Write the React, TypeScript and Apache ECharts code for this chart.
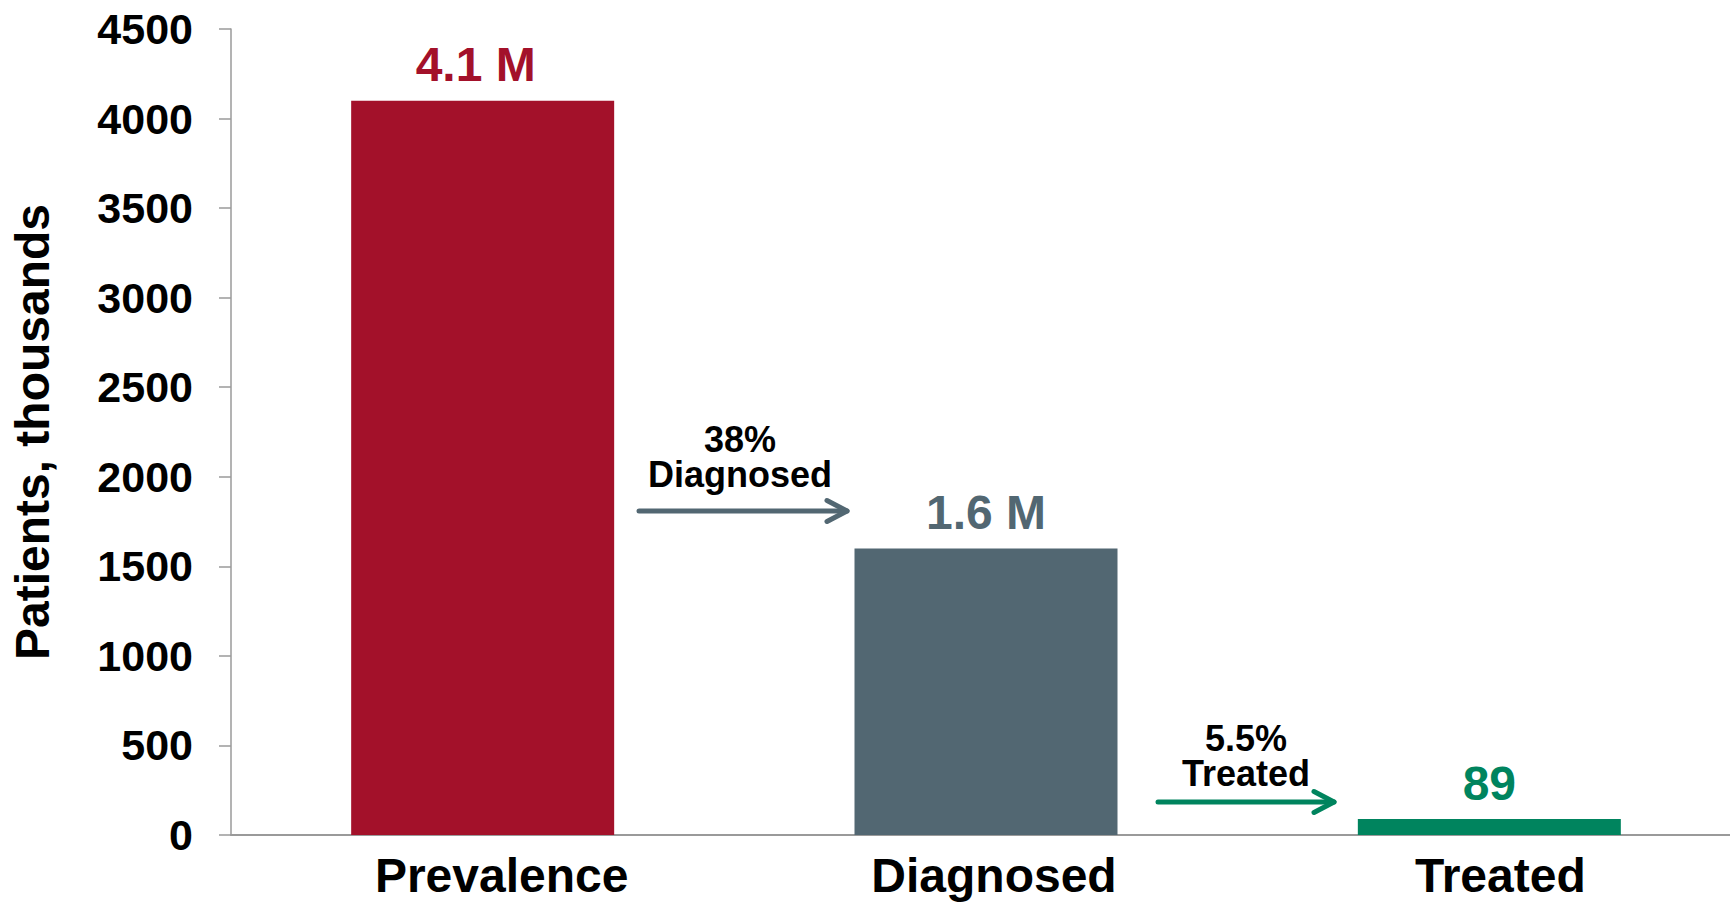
import React, { useEffect, useRef } from "react";
import * as echarts from "echarts";

const categories = ["Prevalence", "Diagnosed", "Treated"];
const values = [4100, 1600, 89];
const valueLabels = ["4.1 M", "1.6 M", "89"];
const barColors = ["#a3112a", "#526772", "#00845e"];
const yTicks = { min: 0, max: 4500, interval: 500 };
const yAxisName = "Patients, thousands";
const stepNotes = [
  { pct: "38%", label: "Diagnosed", color: "#526772" },
  { pct: "5.5%", label: "Treated", color: "#00845e" },
];

const FONT = "'Liberation Sans', Arial, Helvetica, sans-serif";
const labelPads = [38, 16, 22];
const valueLabelShift = [-7, 0, 0];

export default function App() {
  const ref = useRef<HTMLDivElement>(null);

  useEffect(() => {
    if (!ref.current) return;
    const chart = echarts.init(ref.current, undefined, { renderer: "svg" });

    const arrow = (x1: number, x2: number, y: number, color: string) => ({
      type: "group",
      children: [
        {
          type: "line",
          shape: { x1, y1: y, x2, y2: y },
          style: { stroke: color, lineWidth: 5, lineCap: "round" },
        },
        {
          type: "polyline",
          shape: {
            points: [
              [x2 - 20, y - 10.5],
              [x2, y],
              [x2 - 20, y + 10.5],
            ],
          },
          style: { stroke: color, lineWidth: 5, lineCap: "round", lineJoin: "round", fill: null },
        },
      ],
    });

    const note = (cx: number, cy: number, n: { pct: string; label: string }) => [
      {
        type: "text",
        x: cx,
        y: cy,
        style: {
          text: n.pct,
          fill: "#000",
          font: `bold 36px ${FONT}`,
          lineHeight: 35,
          align: "center",
          verticalAlign: "bottom",
        },
      },
      {
        type: "text",
        x: cx,
        y: cy,
        style: {
          text: n.label,
          fill: "#000",
          font: `bold 36px ${FONT}`,
          lineHeight: 35,
          align: "center",
          verticalAlign: "top",
        },
      },
    ];

    const rich: Record<string, any> = {};
    labelPads.forEach((p, i) => {
      rich["c" + i] = {
        color: "#000",
        fontFamily: FONT,
        fontWeight: "bold",
        fontSize: 48,
        padding: [0, 0, 0, p],
      };
    });

    chart.setOption({
      animation: false,
      backgroundColor: "#ffffff",
      grid: { left: 229, top: 29, bottom: 67, right: 4, containLabel: false },
      xAxis: {
        type: "category",
        data: categories,
        axisLine: { show: true, lineStyle: { color: "#9a9a9a", width: 2 } },
        axisTick: { show: false },
        axisLabel: {
          color: "#000",
          fontFamily: FONT,
          fontWeight: "bold",
          fontSize: 48,
          margin: 16,
          formatter: (v: string, i: number) => `{c${i}|${v}}`,
          rich,
        },
      },
      yAxis: {
        type: "value",
        min: yTicks.min,
        max: yTicks.max,
        interval: yTicks.interval,
        name: yAxisName,
        nameLocation: "middle",
        nameGap: 175,
        nameTextStyle: {
          color: "#000",
          fontFamily: FONT,
          fontWeight: "bold",
          fontSize: 48,
        },
        axisLine: { show: true, lineStyle: { color: "#9a9a9a", width: 1.5 } },
        axisTick: { show: true, inside: false, length: 12, lineStyle: { color: "#9a9a9a", width: 1.5 } },
        splitLine: { show: false },
        axisLabel: {
          color: "#000",
          fontFamily: FONT,
          fontWeight: "bold",
          fontSize: 43,
          margin: 38,
          formatter: (v: number) => String(v),
        },
      },
      series: [
        {
          type: "bar",
          barWidth: 263,
          data: values.map((v, i) => ({
            value: v,
            itemStyle: { color: barColors[i] },
            label: {
              show: true,
              position: "top",
              distance: 12,
              offset: [valueLabelShift[i], 0],
              formatter: valueLabels[i],
              color: barColors[i],
              fontFamily: FONT,
              fontWeight: "bold",
              fontSize: 48,
            },
          })),
        },
      ],
      graphic: [
        arrow(639, 847, 511, stepNotes[0].color),
        ...note(740, 457, stepNotes[0]),
        arrow(1158, 1334, 802, stepNotes[1].color),
        ...note(1246, 756, stepNotes[1]),
      ],
    });

    return () => chart.dispose();
  }, []);

  return (
    <div
      ref={ref}
      style={{ position: "fixed", left: 0, top: 0, width: 1745, height: 902, background: "#fff" }}
    />
  );
}
